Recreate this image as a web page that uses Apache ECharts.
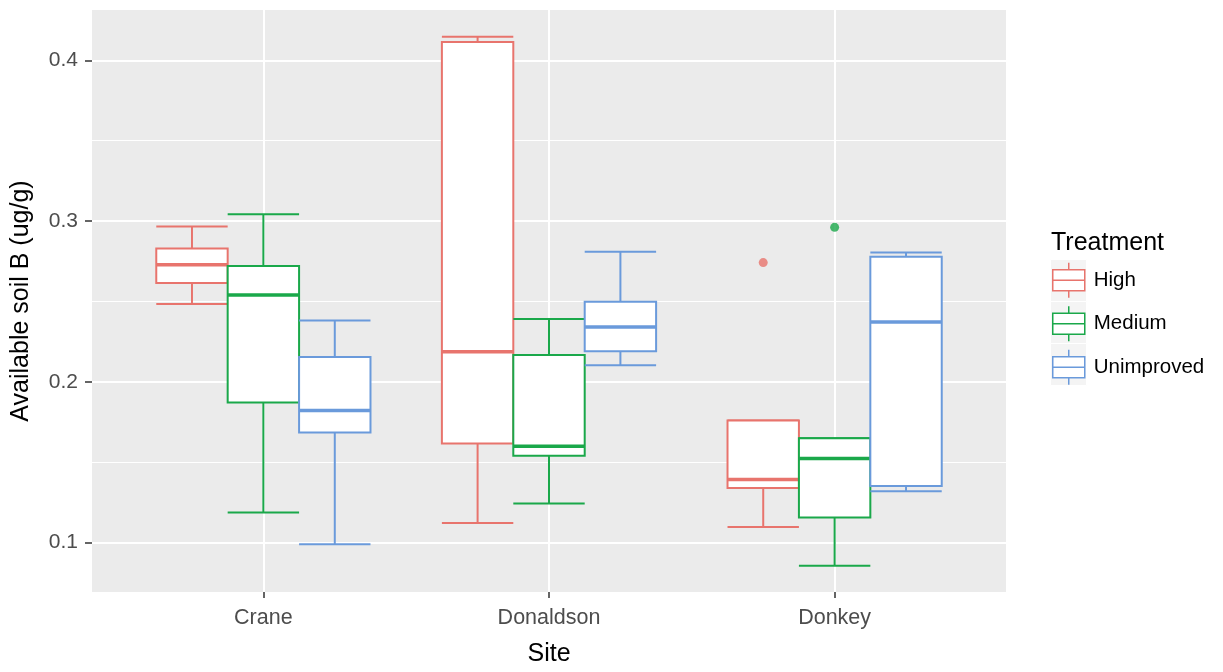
<!DOCTYPE html>
<html>
<head>
<meta charset="utf-8">
<script src="https://cdn.jsdelivr.net/npm/echarts@6/dist/echarts.min.js"></script>
<style>
  html, body { margin: 0; padding: 0; background: #fff; }
  #chart { width: 1223px; height: 672px; }
</style>
</head>
<body>
<div id="chart"></div>
<script>
// Sites along the x axis and treatments within each site
const sites = ['Crane', 'Donaldson', 'Donkey'];
const treatments = ['High', 'Medium', 'Unimproved'];

// Box statistics per site: [lower whisker, Q1, median, Q3, upper whisker]
const highStats = [
  [0.2484, 0.2615, 0.2728, 0.2829, 0.2966],
  [0.1122, 0.1617, 0.2188, 0.4114, 0.4146],
  [0.1098, 0.1340, 0.1393, 0.1759, 0.1759]
];
const mediumStats = [
  [0.1188, 0.1872, 0.2541, 0.2720, 0.3042],
  [0.1243, 0.1540, 0.1600, 0.2167, 0.2391],
  [0.0856, 0.1156, 0.1524, 0.1649, 0.1649]
];
const unimprovedStats = [
  [0.0990, 0.1685, 0.1822, 0.2154, 0.2381],
  [0.2104, 0.2191, 0.2341, 0.2499, 0.2810],
  [0.1319, 0.1353, 0.2373, 0.2779, 0.2805]
];

// Outlying observations: [site, value]
const highOutliers = [['Donkey', 0.2742]];
const mediumOutliers = [['Donkey', 0.2961]];
const unimprovedOutliers = [];

// Axis ticks
const yMajorTicks = [0.1, 0.2, 0.3, 0.4];
const yMinorTicks = [0.15, 0.25, 0.35];
const siteTicks = [1, 2, 3];

const colors = ['#E8746D', '#1AA84A', '#6A9ADB'];
const statsByTreatment = [highStats, mediumStats, unimprovedStats];
const outliersByTreatment = [highOutliers, mediumOutliers, unimprovedOutliers];

const dodgeWidth = 0.75;
const boxWidth = dodgeWidth / treatments.length;
const FONT = 'Liberation Sans, Arial, sans-serif';

function offsetFor(i) {
  return (i - (treatments.length - 1) / 2) * boxWidth;
}

function boxRenderer(offset, color) {
  return function (params, api) {
    const x = api.value(0) + offset;
    const lo = api.coord([x, api.value(1)]);
    const q1 = api.coord([x, api.value(2)]);
    const md = api.coord([x, api.value(3)]);
    const q3 = api.coord([x, api.value(4)]);
    const hi = api.coord([x, api.value(5)]);
    const half = api.size([boxWidth, 0])[0] / 2;
    const cx = md[0];
    const line = (x1, y1, x2, y2, w) => ({
      type: 'line',
      shape: { x1, y1, x2, y2 },
      style: { stroke: color, lineWidth: w, fill: null }
    });
    return {
      type: 'group',
      children: [
        line(cx, hi[1], cx, q3[1], 2),
        line(cx, q1[1], cx, lo[1], 2),
        line(cx - half, hi[1], cx + half, hi[1], 2),
        line(cx - half, lo[1], cx + half, lo[1], 2),
        {
          type: 'rect',
          shape: { x: cx - half, y: q3[1], width: half * 2, height: q1[1] - q3[1] },
          style: { fill: '#ffffff', stroke: color, lineWidth: 2 }
        },
        line(cx - half, md[1], cx + half, md[1], 3.5)
      ]
    };
  };
}

const series = [];

// Panel grid lines
series.push({
  type: 'line',
  data: [],
  silent: true,
  z: 1,
  markLine: {
    z: 1,
    silent: true,
    symbol: ['none', 'none'],
    label: { show: false },
    emphasis: { disabled: true },
    animation: false,
    data: [
      ...yMinorTicks.map(v => ({ yAxis: v, lineStyle: { color: '#ffffff', width: 1, type: 'solid' } })),
      ...yMajorTicks.map(v => ({ yAxis: v, lineStyle: { color: '#ffffff', width: 2, type: 'solid' } })),
      ...siteTicks.map(v => ({ xAxis: v, lineStyle: { color: '#ffffff', width: 2, type: 'solid' } }))
    ]
  }
});

treatments.forEach((name, i) => {
  const off = offsetFor(i);
  series.push({
    name,
    type: 'custom',
    color: colors[i],
    z: 2,
    renderItem: boxRenderer(off, colors[i]),
    encode: { x: 0, y: [1, 2, 3, 4, 5] },
    data: statsByTreatment[i].map((s, k) => [k + 1, ...s])
  });
  series.push({
    name,
    type: 'scatter',
    color: colors[i],
    z: 3,
    symbol: 'circle',
    symbolSize: 9,
    itemStyle: { color: colors[i] },
    data: outliersByTreatment[i].map(([site, v]) => [sites.indexOf(site) + 1 + off, v])
  });
});

// Legend key glyph: a small box with median line and whisker stubs
const legendIcon = 'path://M0,7 L32,7 L32,28 L0,28 Z M0,17.5 L32,17.5 M16,0 L16,7 M16,28 L16,35';

// Light key backgrounds behind each legend glyph
const keyBackgrounds = treatments.map((n, i) => ({
  type: 'rect',
  left: 1050,
  top: 259 + i * 42,
  shape: { width: 36, height: 42 },
  style: { fill: '#F4F4F4', stroke: '#ffffff', lineWidth: 1 },
  z: 0,
  silent: true
}));

const option = {
  animation: false,
  backgroundColor: '#ffffff',
  textStyle: { fontFamily: FONT },
  grid: {
    left: 92, right: 217, top: 10, bottom: 74,
    show: true, backgroundColor: '#EBEBEB', borderWidth: 0
  },
  graphic: keyBackgrounds,
  title: {
    text: 'Treatment',
    left: 1046, top: 226,
    textStyle: { fontFamily: FONT, fontSize: 25, fontWeight: 'normal', color: '#000' }
  },
  legend: {
    orient: 'vertical',
    left: 1052, top: 262,
    padding: 0,
    itemWidth: 32, itemHeight: 35, itemGap: 7,
    selectedMode: false,
    data: treatments.map((n, i) => ({
      name: n,
      icon: legendIcon,
      itemStyle: { color: '#ffffff', borderColor: colors[i], borderWidth: 1.5 }
    })),
    textStyle: { fontFamily: FONT, fontSize: 20.5, color: '#000', padding: [0, 0, 0, 4] }
  },
  xAxis: {
    type: 'value',
    min: 0.4, max: 3.6,
    name: 'Site',
    nameLocation: 'middle',
    nameGap: 50,
    nameTextStyle: { fontFamily: FONT, fontSize: 25, color: '#000' },
    axisLine: { show: false },
    splitLine: { show: false },
    axisTick: { show: true, customValues: siteTicks, length: 6, lineStyle: { color: '#333', width: 1.5 } },
    axisLabel: {
      customValues: siteTicks,
      formatter: v => sites[Math.round(v) - 1] || '',
      fontFamily: FONT, fontSize: 21.5, color: '#4D4D4D', margin: 15
    }
  },
  yAxis: {
    type: 'value',
    min: 0.0693, max: 0.4313,
    name: 'Available soil B (ug/g)',
    nameLocation: 'middle',
    nameRotate: 90,
    nameGap: 58,
    nameTextStyle: { fontFamily: FONT, fontSize: 25, color: '#000' },
    axisLine: { show: false },
    splitLine: { show: false },
    axisTick: { show: true, customValues: yMajorTicks, length: 7, lineStyle: { color: '#333', width: 1.5 } },
    axisLabel: {
      customValues: yMajorTicks,
      formatter: v => v.toFixed(1),
      fontFamily: FONT, fontSize: 21, color: '#4D4D4D', margin: 14
    }
  },
  series
};

const chart = echarts.init(document.getElementById('chart'), null, { renderer: 'canvas' });
chart.setOption(option);
</script>
</body>
</html>
